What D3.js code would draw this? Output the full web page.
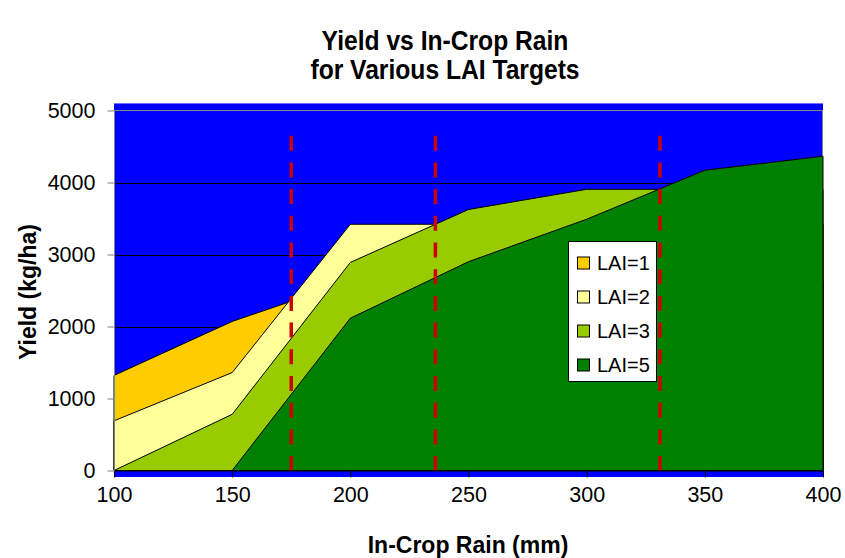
<!DOCTYPE html>
<html>
<head>
<meta charset="utf-8">
<script src="https://cdn.jsdelivr.net/npm/d3@7"></script>
<style>
  html, body { margin: 0; padding: 0; background: #fff; }
  svg { display: block; font-family: Arial, "Liberation Sans", sans-serif; }
</style>
</head>
<body>
<svg id="chart" width="845" height="558"></svg>
<script>
// ---- data ----
const rain = [100, 150, 200, 250, 300, 350, 400];
const lai1 = [1320, 2070, 2630, 2630, 2630, 2630, 2630];
const lai2 = [690, 1360, 3420, 3420, 3420, 3420, 3420];
const lai3 = [0, 780, 2890, 3625, 3905, 3905, 3905];
const lai5 = [0, 0, 2115, 2900, 3490, 4170, 4365];
const seriesNames = ["LAI=1", "LAI=2", "LAI=3", "LAI=5"];
const seriesColors = ["#FFCC00", "#FFFF99", "#99CC00", "#008000"];
const markerRain = [175, 236, 331];
const markerTop = 4650;
const yTicks = [0, 1000, 2000, 3000, 4000, 5000];
const xTicks = [100, 150, 200, 250, 300, 350, 400];

const svg = d3.select("#chart");
const x = d3.scaleLinear().domain([100, 400]).range([114, 823]);
const y = d3.scaleLinear().domain([0, 5000]).range([470.5, 110.5]);

// plot background (blue)
svg.append("rect").attr("x", 114).attr("y", 103).attr("width", 709).attr("height", 374)
  .attr("fill", "#0000FF");
svg.append("line").attr("x1", 114).attr("x2", 823).attr("y1", 103.5).attr("y2", 103.5)
  .attr("stroke", "#7070ff").attr("stroke-width", 1);

// gridlines
svg.append("g").selectAll("line").data(yTicks.filter(d => d > 0 && d < 5000)).join("line")
  .attr("x1", 114).attr("x2", 823)
  .attr("y1", d => Math.round(y(d)) + 0.5).attr("y2", d => Math.round(y(d)) + 0.5)
  .attr("stroke", "#000").attr("stroke-width", 1);
// plot border (gray)
svg.append("rect").attr("x", 114.5).attr("y", y(5000)).attr("width", 708).attr("height", y(0) - y(5000))
  .attr("fill", "none").attr("stroke", "#808080").attr("stroke-width", 1);

// areas
const allSeries = [lai1, lai2, lai3, lai5];
allSeries.forEach((s, k) => {
  const pts = s.map((v, i) => [x(rain[i]), y(v)]);
  const poly = [[x(rain[0]), y(0)], ...pts, [x(rain[rain.length - 1]), y(0)]];
  svg.append("path")
    .attr("d", "M" + poly.map(p => p.join(",")).join("L") + "Z")
    .attr("fill", seriesColors[k])
    .attr("stroke", "#000").attr("stroke-width", 1).attr("stroke-linejoin", "round");
});

// dashed markers
svg.append("g").selectAll("line").data(markerRain).join("line")
  .attr("x1", d => x(d)).attr("x2", d => x(d))
  .attr("y1", y(markerTop)).attr("y2", y(0))
  .attr("stroke", "#CC0000").attr("stroke-width", 3.5)
  .attr("stroke-dasharray", "15,11.7");

// x axis
const xAxis = d3.axisBottom(x).tickValues(xTicks).tickSize(7).tickPadding(9).tickFormat(d3.format("d"));
const gx = svg.append("g").attr("transform", `translate(0,${y(0)})`).call(xAxis);
gx.select(".domain").attr("stroke", "#000").attr("d", `M${x(100)},0.5H${x(400)}`);
gx.selectAll(".tick line").attr("stroke", "#000");
gx.selectAll(".tick text").attr("font-size", 21.5).attr("fill", "#000")
  .attr("font-family", "Arial, 'Liberation Sans', sans-serif");

// y axis
const yAxis = d3.axisLeft(y).tickValues(yTicks).tickSize(7).tickPadding(12).tickFormat(d3.format("d"));
const gy = svg.append("g").attr("transform", `translate(114.5,0)`).call(yAxis);
gy.select(".domain").attr("stroke", "#808080").attr("d", `M0,${y(5000)}V${y(0)}`);
gy.selectAll(".tick line").attr("stroke", "#808080");
gy.selectAll(".tick text").attr("font-size", 21.5).attr("fill", "#000")
  .attr("font-family", "Arial, 'Liberation Sans', sans-serif");

// titles (slightly condensed bold)
const title = svg.append("text").attr("text-anchor", "middle").attr("font-weight", "bold")
  .attr("font-size", 28).attr("fill", "#000")
  .attr("transform", "translate(445,0) scale(0.88,1)");
title.append("tspan").attr("x", 0).attr("y", 50).text("Yield vs In-Crop Rain");
title.append("tspan").attr("x", 0).attr("y", 79).text("for Various LAI Targets");

svg.append("text").attr("x", 468).attr("y", 553).attr("text-anchor", "middle")
  .attr("font-weight", "bold").attr("font-size", 23).text("In-Crop Rain (mm)");
svg.append("text").attr("transform", "translate(36,292) rotate(-90)").attr("text-anchor", "middle")
  .attr("font-weight", "bold").attr("font-size", 23).text("Yield (kg/ha)");

// legend
const lg = svg.append("g");
lg.append("rect").attr("x", 568.5).attr("y", 241.5).attr("width", 88).attr("height", 140)
  .attr("fill", "#fff").attr("stroke", "#000").attr("stroke-width", 1);
const rowsY = [263, 297, 331, 365];
seriesNames.forEach((n, i) => {
  lg.append("rect").attr("x", 577.5).attr("y", rowsY[i] - 6).attr("width", 12).attr("height", 12)
    .attr("fill", seriesColors[i]).attr("stroke", "#000").attr("stroke-width", 1);
  lg.append("text").attr("x", 597).attr("y", rowsY[i] + 7).attr("font-size", 20).text(n);
});
</script>
</body>
</html>
